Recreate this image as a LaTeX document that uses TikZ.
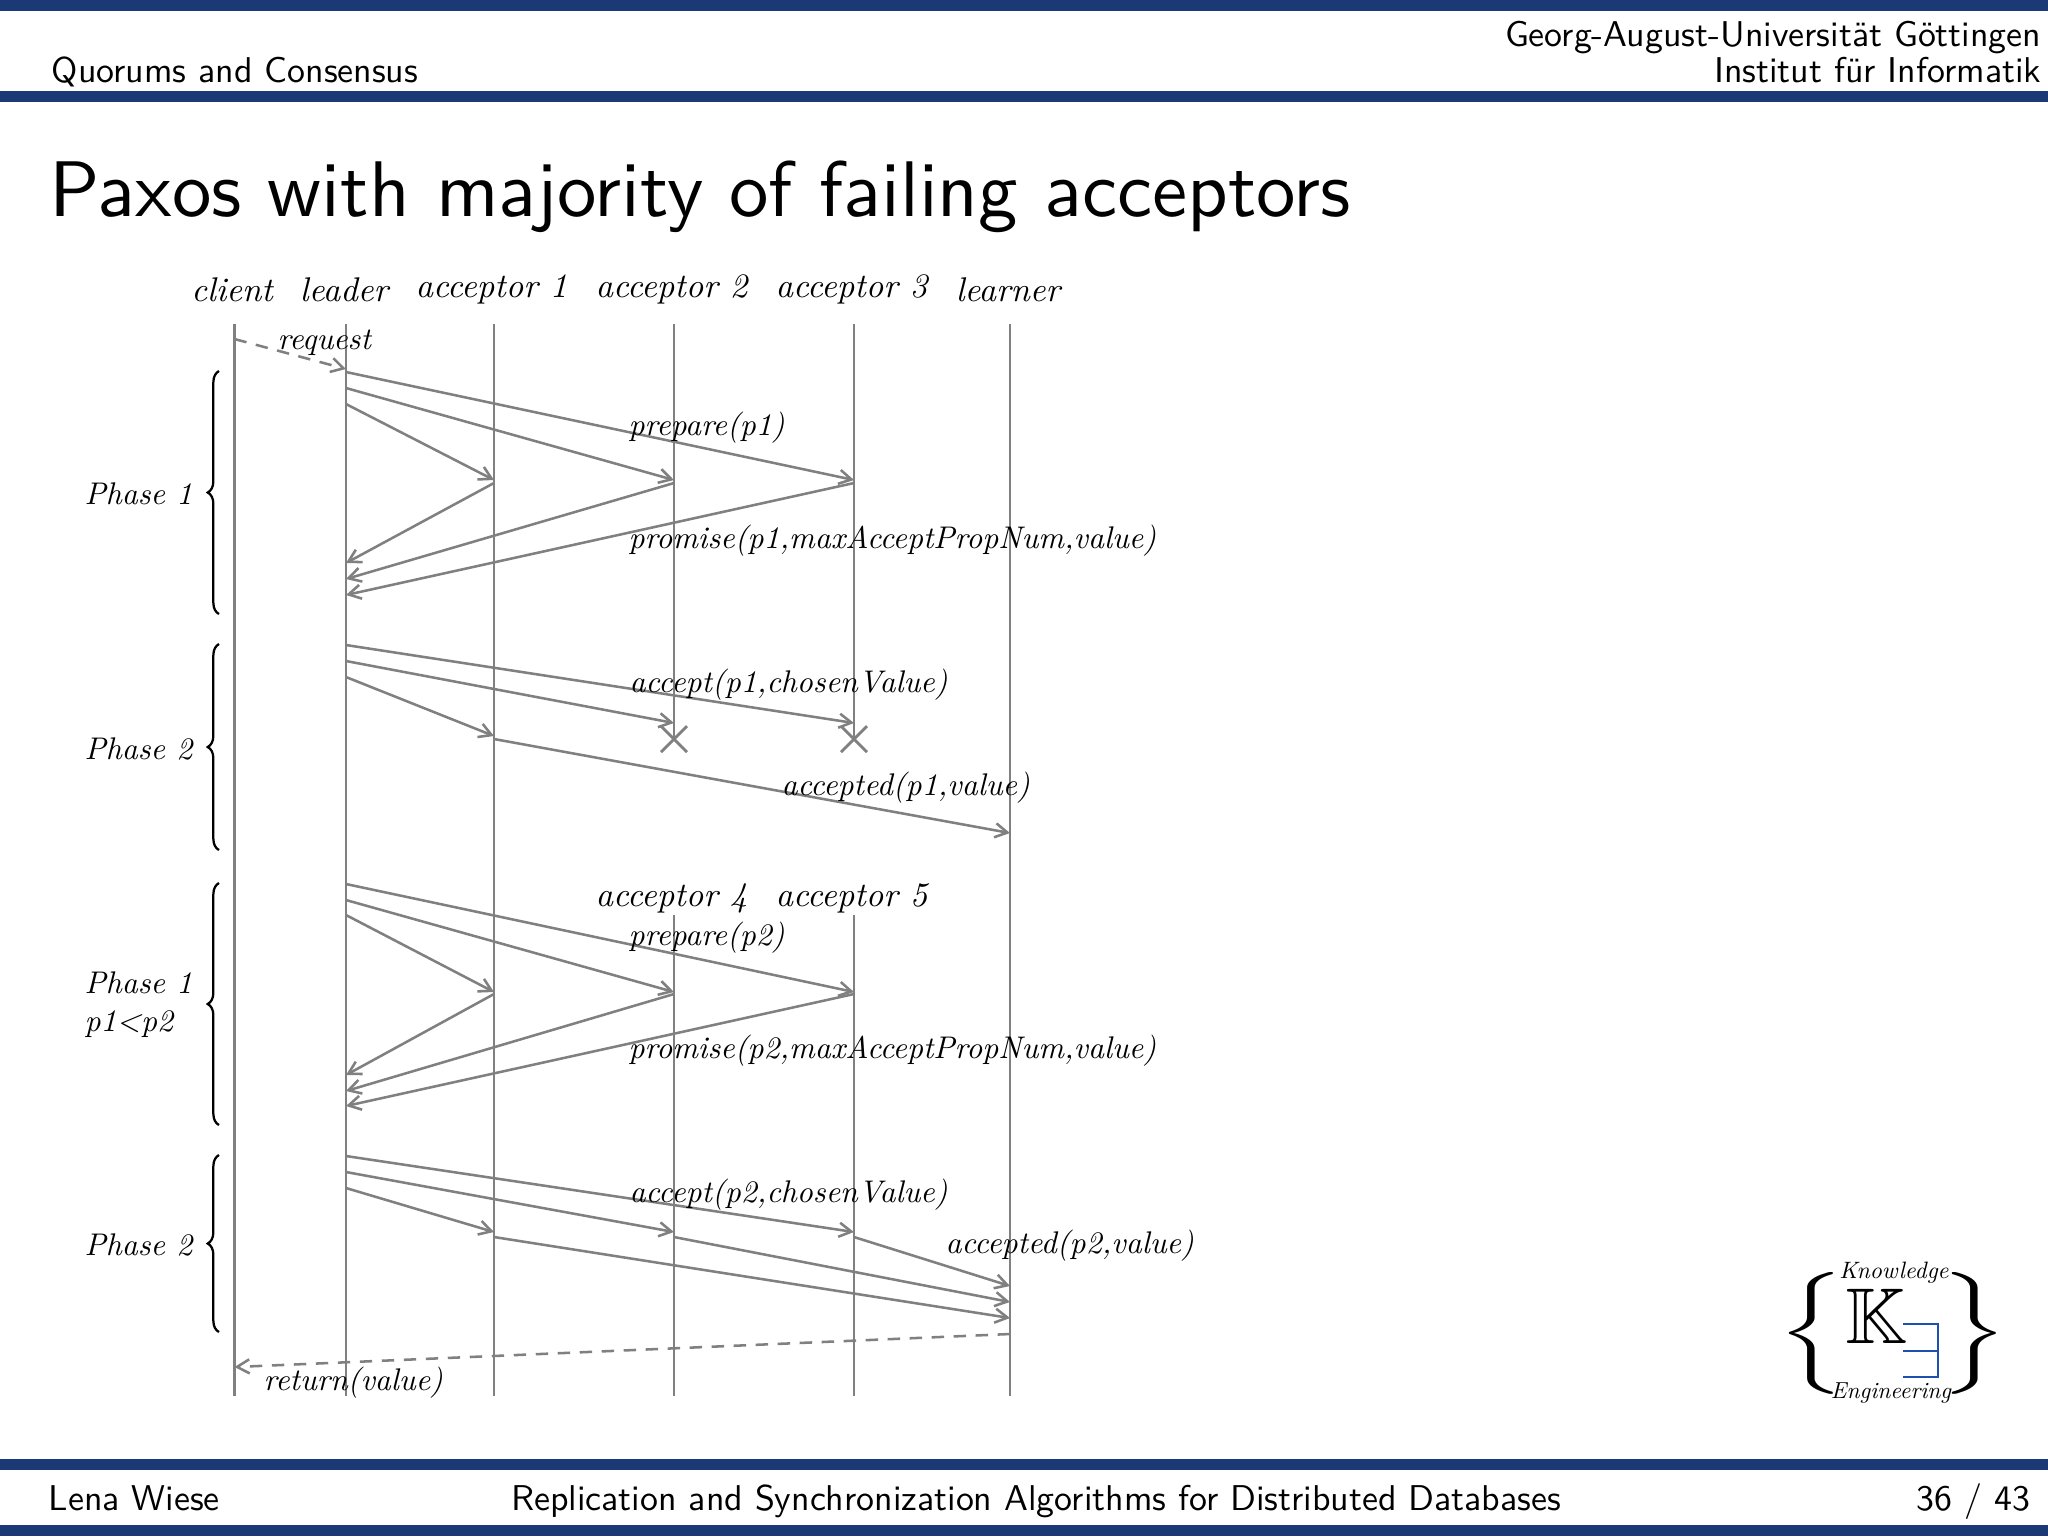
\documentclass[tikz,border=0pt]{standalone}
\usepackage{amsmath}
\usepackage{amsfonts}
\usepackage{tikz}
\usetikzlibrary{arrows.meta,decorations.pathreplacing}

\definecolor{barblue}{RGB}{27,57,117}
\definecolor{logoblue}{RGB}{30,80,175}

\tikzset{
  lifeline/.style={draw=gray, line width=0.45pt},
  msg/.style={draw=gray, line width=0.45pt, -{Straight Barb[length=2.2pt,width=2.5pt]}},
  dashmsg/.style={msg, dash pattern=on 2.2pt off 1.7pt},
  lab/.style={inner sep=0pt, anchor=base west, font=\itshape, scale=0.555},
  head/.style={inner sep=0pt, anchor=base, font=\itshape, scale=0.607},
  phasebrace/.style={draw=black, line width=0.4pt, decorate, decoration={brace, amplitude=2pt}},
  bar/.style={fill=barblue, draw=none},
  slide/.style={inner sep=0pt, font=\sffamily, scale=0.635}
}

\begin{document}
\begin{tikzpicture}[x=0.17717pt, y=-0.17717pt]
  \useasboundingbox (0,0) rectangle (2048,1536);

  % slide frame
  \fill[bar] (0,0) rectangle (2048,11);
  \fill[bar] (0,91) rectangle (2048,102);
  \fill[bar] (0,1459) rectangle (2048,1470);
  \fill[bar] (0,1525) rectangle (2048,1536);
  \node[slide, anchor=base west] (section) at (51,82) {Quorums and Consensus};
  \node[slide, anchor=base east] (univ) at (2042,46) {Georg-August-Universit\"at G\"ottingen};
  \node[slide, anchor=base east] (inst) at (2042,82) {Institut f\"ur Informatik};
  \node[slide, anchor=base west, scale=2.2] (title) at (48,216) {Paxos with majority of failing acceptors};
  \node[slide, anchor=base west] (author) at (48,1510) {Lena Wiese};
  \node[slide, anchor=base] (talk) at (1036,1510) {Replication and Synchronization Algorithms for Distributed Databases};
  \node[slide, anchor=base east] (page) at (2031,1510) {36 / 43};

  % lifelines
  \foreach \who/\x in {client/234.5, leader/346, acca/494, accb/674, accc/854, learner/1010} {
    \coordinate (\who-top) at (\x,324);
    \coordinate (\who-bot) at (\x,1396);
  }
  \coordinate (accb-cross) at (674,739);
  \coordinate (accc-cross) at (854,739);
  \coordinate (accd-top) at (674,915);
  \coordinate (acce-top) at (854,915);

  \draw[lifeline] (client-top) -- (client-bot);
  \draw[lifeline] (leader-top) -- (leader-bot);
  \draw[lifeline] (acca-top) -- (acca-bot);
  \draw[lifeline] (accb-top) -- (accb-cross);
  \draw[lifeline] (accc-top) -- (accc-cross);
  \draw[lifeline] (accd-top) -- (accb-bot);
  \draw[lifeline] (acce-top) -- (accc-bot);
  \draw[lifeline] (learner-top) -- (learner-bot);

  % crosses on the failed acceptors
  \foreach \who in {accb, accc} {
    \draw[lifeline, line width=0.5pt] (\who-cross) ++(-13,-13) -- ++(26,26);
    \draw[lifeline, line width=0.5pt] (\who-cross) ++(-13,13) -- ++(26,-26);
  }

  % message ends: lifeline letter plus height
  \foreach \lin/\x in {c/234.5, l/346, a/494, b/674, d/854, e/1010} {
    \foreach \y in {339,369,372,388,404,480,483,563,579,595,
                    645,661,677,723,736,739,833,
                    884,900,915,992,994,1075,1091,1106,
                    1156,1172,1188,1232,1237,1286,1302,1318,1334,1367} {
      \coordinate (\lin\y) at (\x,\y);
    }
  }

  \draw[dashmsg] (c339) -- (l369);
  \foreach \src/\dst in {l372/d480, l388/b480, l404/a480,
                     a483/l563, b483/l579, d483/l595,
                     l645/d723, l661/b723, l677/a736, a739/e833,
                     l884/d992, l900/b992, l915/a992,
                     a994/l1075, b994/l1091, d994/l1106,
                     l1156/d1232, l1172/b1232, l1188/a1232,
                     d1237/e1286, b1237/e1302, a1237/e1318} {
    \draw[msg] (\src) -- (\dst);
  }
  \draw[dashmsg] (e1334) -- (c1367);

  % phases
  \coordinate (ph1-a) at (219,371);  \coordinate (ph1-b) at (219,614);
  \coordinate (ph2-a) at (219,644);  \coordinate (ph2-b) at (219,850);
  \coordinate (ph3-a) at (219,883);  \coordinate (ph3-b) at (219,1125);
  \coordinate (ph4-a) at (219,1155); \coordinate (ph4-b) at (219,1332);
  \foreach \p in {ph1, ph2, ph3, ph4} {
    \draw[phasebrace] (\p-b) -- (\p-a);
  }

  \node[lab] (phase1) at (84,504) {Phase 1};
  \node[lab] (phase2) at (84,759) {Phase 2};
  \node[lab] (phase3) at (84,993) {Phase 1};
  \node[lab] (order) at (84,1031) {p1<p2};
  \node[lab] (phase4) at (84,1255) {Phase 2};

  % heads
  \node[head] (client) at (232,301) {client};
  \node[head] (leader) at (344,301) {leader};
  \node[head] (acceptor1) at (491.5,297) {acceptor 1};
  \node[head] (acceptor2) at (671.5,297) {acceptor 2};
  \node[head] (acceptor3) at (851.5,297) {acceptor 3};
  \node[head] (learner) at (1008,301) {learner};
  \node[head] (acceptor4) at (671.5,906) {acceptor 4};
  \node[head] (acceptor5) at (851.5,906) {acceptor 5};

  % message labels
  \node[lab] (request) at (277,349) {request};
  \node[lab] (prepare1) at (628,435) {prepare(p1)};
  \node[lab] (promise1) at (628,548) {promise(p1,maxAcceptPropNum,value)};
  \node[lab] (accept1) at (629,692) {accept(p1,chosen\kern0.3pt Value)};
  \node[lab] (accepted1) at (781,795) {accepted(p1,value)};
  \node[lab] (prepare2) at (628,945) {prepare(p2)};
  \node[lab] (promise2) at (628,1058) {promise(p2,maxAcceptPropNum,value)};
  \node[lab] (accept2) at (629,1202) {accept(p2,chosen\kern0.3pt Value)};
  \node[lab] (accepted2) at (945,1253) {accepted(p2,value)};
  \node[lab] (return) at (263,1390) {return(value)};

  % logo
  \node[inner sep=0pt, xscale=1.6, yscale=0.9] (logoleft) at (1811,1333) {$\biggl\{$};
  \node[inner sep=0pt, xscale=1.6, yscale=0.9] (logoright) at (1974,1333) {$\biggr\}$};
  \node[inner sep=0pt, anchor=base, font=\itshape, scale=0.42] (knowledge) at (1894,1278) {Knowledge};
  \node[inner sep=0pt, anchor=base, font=\itshape, scale=0.41] (engineering) at (1891,1398) {Engineering};
  \node[inner sep=0pt, anchor=base west, scale=1.4] (bbk) at (1844,1343) {$\mathbb{K}$};
  \coordinate (ex1) at (1903,1324); \coordinate (ex2) at (1938,1324);
  \coordinate (ex3) at (1938,1377); \coordinate (ex4) at (1903,1377);
  \coordinate (ex5) at (1903,1351); \coordinate (ex6) at (1938,1351);
  \draw[logoblue, line width=0.45pt] (ex1) -- (ex2) -- (ex3) -- (ex4);
  \draw[logoblue, line width=0.45pt] (ex5) -- (ex6);
\end{tikzpicture}
\end{document}
